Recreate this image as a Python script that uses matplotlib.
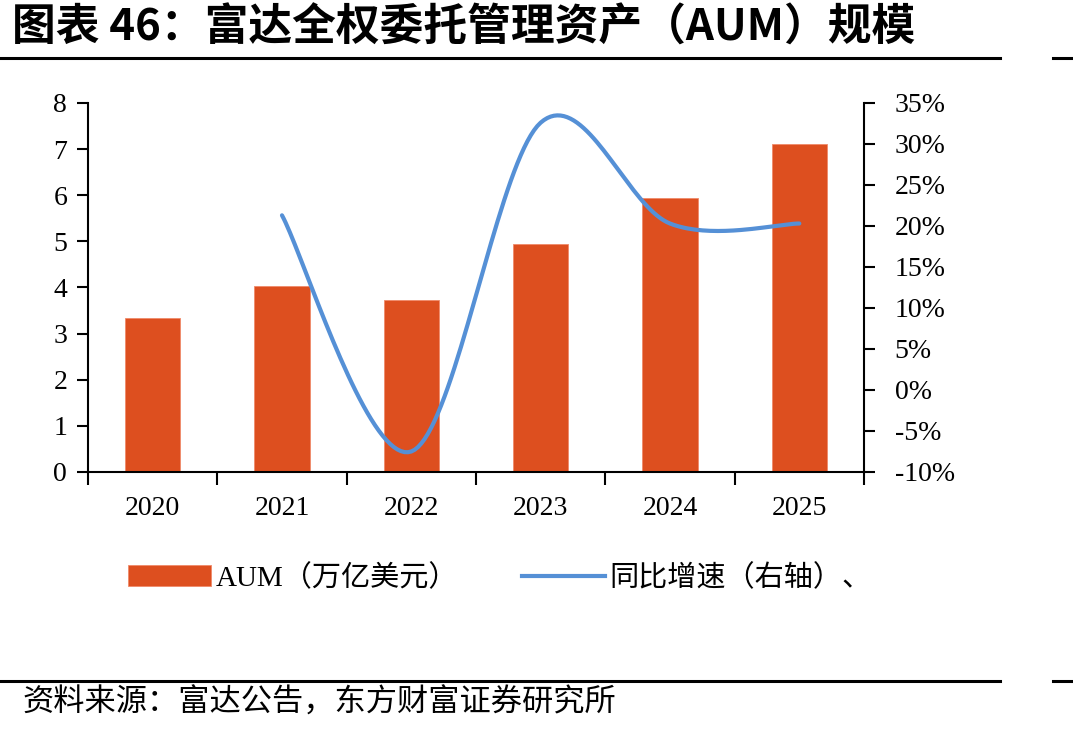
import numpy as np
import matplotlib
matplotlib.use('Agg')
import matplotlib.pyplot as plt
from matplotlib.patches import Patch
from matplotlib.lines import Line2D

# Data
years = ['2020', '2021', '2022', '2023', '2024', '2025']
aum = [3.34, 4.03, 3.73, 4.95, 5.94, 7.12]          # 万亿美元
growth_years = ['2021', '2022', '2023', '2024', '2025']
growth = [21.3, -7.5, 32.6, 20.3, 20.3]              # %

bar_color = '#DD4F1F'
line_color = '#5590D6'
serif = ['Liberation Serif', 'Noto Sans CJK SC']
cjk = ['Noto Sans CJK SC', 'DejaVu Sans']

fig = plt.figure(figsize=(10.73, 7.34), dpi=100)
ax = fig.add_axes([0.082, 0.357, 0.7232, 0.5027])

x = np.arange(len(years))
ax.bar(x, aum, width=0.43, color=bar_color, edgecolor='#F08A6A', linewidth=0.6, zorder=2)
ax.set_xlim(-0.5, len(years) - 0.5)
ax.set_ylim(0, 8)
ax.set_yticks(range(0, 9))

# smoothed line (Catmull-Rom, like Excel's smoothed lines)
ax2 = ax.twinx()
gx = np.array([years.index(y) for y in growth_years], dtype=float)
gy = np.array(growth, dtype=float)
px = np.concatenate([[gx[0]], gx, [gx[-1]]])
py = np.concatenate([[gy[0]], gy, [gy[-1]]])
sx, sy = [], []
t = np.linspace(0, 1, 40)
for i in range(1, len(px) - 2):
    p0 = np.array([px[i], py[i]])
    p3 = np.array([px[i + 1], py[i + 1]])
    c1 = p0 + (np.array([px[i + 1], py[i + 1]]) - np.array([px[i - 1], py[i - 1]])) / 6
    c2 = p3 - (np.array([px[i + 2], py[i + 2]]) - np.array([px[i], py[i]])) / 6
    b = ((1 - t) ** 3)[:, None] * p0 + (3 * (1 - t) ** 2 * t)[:, None] * c1 \
        + (3 * (1 - t) * t ** 2)[:, None] * c2 + (t ** 3)[:, None] * p3
    sx.extend(b[:, 0]); sy.extend(b[:, 1])
ax2.plot(sx, sy, color=line_color, linewidth=3, solid_capstyle='round', zorder=3)
ax2.set_ylim(-10, 35)
ax2.set_yticks(range(-10, 36, 5))
ax2.set_yticklabels([f'{v}%' for v in range(-10, 36, 5)])

# axes styling
for a in (ax, ax2):
    a.spines['top'].set_visible(False)
    for s in a.spines.values():
        s.set_linewidth(1.5)
ax.spines['right'].set_visible(False)
ax2.spines['left'].set_visible(False)
ax2.spines['bottom'].set_visible(False)

ax.set_xticks(x)
ax.set_xticklabels(years)
ax.set_xticks(np.arange(-0.5, len(years), 1), minor=True)
ax.tick_params(axis='x', which='major', length=0, pad=17)
ax.tick_params(axis='x', which='minor', length=9, width=1.5, direction='out')
ax.tick_params(axis='y', length=8, width=1.5, direction='out', pad=7)
ax2.tick_params(axis='y', length=8, width=1.5, direction='out', pad=14)
for lab in ax.get_xticklabels() + ax.get_yticklabels() + ax2.get_yticklabels():
    lab.set_family(serif)
    lab.set_fontsize(20)

# legend
handles = [Patch(facecolor=bar_color, edgecolor='#F08A6A', linewidth=0.6),
           Line2D([0], [0], color=line_color, linewidth=3)]
fig.legend(handles, ['AUM（万亿美元）', '同比增速（右轴）、'],
           loc='center', bbox_to_anchor=(500 / 1073, 1 - 578 / 734), ncol=2,
           frameon=False, prop={'family': serif, 'size': 21},
           handlelength=2.85, handletextpad=0.15, columnspacing=2.2)

# title, rules and source
fig.text(12 / 1073, 1 - 28 / 734, '图表 46：富达全权委托管理资产（AUM）规模',
         family=cjk, fontsize=31.5, fontweight='bold', va='center', ha='left')
for yy in (58, 681):
    fy = 1 - yy / 734
    fig.add_artist(Line2D([0, 1000 / 1073], [fy, fy], color='black', linewidth=2.2))
    fig.add_artist(Line2D([1053 / 1073, 1], [fy, fy], color='black', linewidth=2.2))
fig.text(22 / 1073, 1 - 703 / 734, '资料来源：富达公告，东方财富证券研究所',
         family=cjk, fontsize=22.5, va='center', ha='left')

fig.savefig('out.png', dpi=100)
